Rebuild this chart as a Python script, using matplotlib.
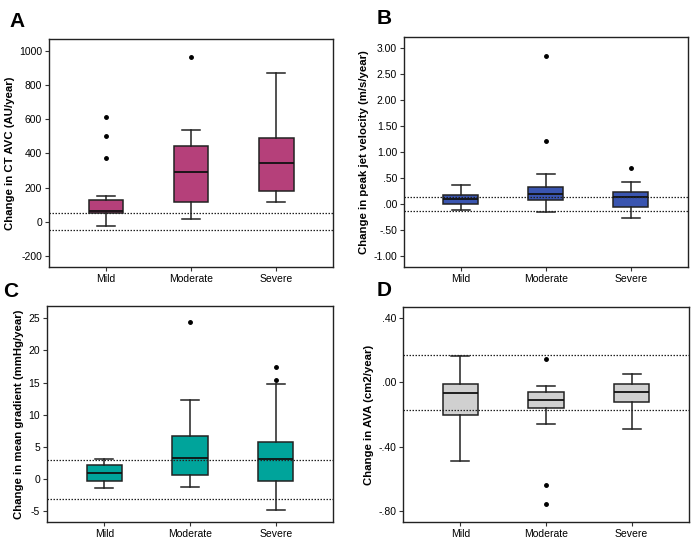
import matplotlib
matplotlib.use("Agg")
import matplotlib.pyplot as plt

plt.rcParams['font.family'] = ['Liberation Sans', 'DejaVu Sans']

groups = ['Mild', 'Moderate', 'Severe']

# per group: (low whisker, Q1, median, Q3, high whisker)
avc_stats = [(-27, 51, 65, 129, 153), (19, 113, 290, 443, 535), (118, 178, 343, 490, 872)]
avc_fliers = [[376, 505, 615], [966], []]
avc_ref = [50, -50]

vel_stats = [(-0.12, -0.013, 0.084, 0.167, 0.354), (-0.16, 0.077, 0.18, 0.315, 0.572),
             (-0.283, -0.058, 0.129, 0.219, 0.424)]
vel_fliers = [[], [1.22, 2.855], [0.70]]
vel_ref = [0.14, -0.14]

grad_stats = [(-1.29, -0.3, 0.93, 2.2, 3.15), (-1.13, 0.72, 3.25, 6.75, 12.27),
              (-4.85, -0.26, 3.2, 5.72, 14.74)]
grad_fliers = [[], [24.4], [15.46, 17.37]]
grad_ref = [3, -3]

ava_stats = [(-0.49, -0.203, -0.063, -0.009, 0.165), (-0.257, -0.158, -0.11, -0.058, -0.019),
             (-0.288, -0.123, -0.057, -0.009, 0.053)]
ava_fliers = [[], [0.144, -0.639, -0.757], []]
ava_ref = [0.17, -0.17]

panels = [
    dict(letter='A', stats=avc_stats, fliers=avc_fliers, ref=avc_ref, color='#b5407a',
         ylabel='Change in CT AVC (AU/year)', ylim=(-265, 1070),
         ticks=[-200, 0, 200, 400, 600, 800, 1000],
         labels=['-200', '0', '200', '400', '600', '800', '1000'],
         rect=[0.0706, 0.5037, 0.4094, 0.4238], lpos=(0.014, 0.978)),
    dict(letter='B', stats=vel_stats, fliers=vel_fliers, ref=vel_ref, color='#3a55b0',
         ylabel='Change in peak jet velocity (m/s/year)', ylim=(-1.22, 3.22),
         ticks=[-1, -0.5, 0, 0.5, 1, 1.5, 2, 2.5, 3],
         labels=['-1.00', '-.50', '.00', '.50', '1.00', '1.50', '2.00', '2.50', '3.00'],
         rect=[0.582, 0.5037, 0.409, 0.4275], lpos=(0.543, 0.983)),
    dict(letter='C', stats=grad_stats, fliers=grad_fliers, ref=grad_ref, color='#00a49b',
         ylabel='Change in mean gradient (mmHg/year)', ylim=(-6.64, 26.85),
         ticks=[-5, 0, 5, 10, 15, 20, 25],
         labels=['-5', '0', '5', '10', '15', '20', '25'],
         rect=[0.0677, 0.0297, 0.4123, 0.4013], lpos=(0.004, 0.475)),
    dict(letter='D', stats=ava_stats, fliers=ava_fliers, ref=ava_ref, color='#d0d0d0',
         ylabel='Change in AVA (cm2/year)', ylim=(-0.868, 0.468),
         ticks=[-0.8, -0.4, 0, 0.4],
         labels=['-.80', '-.40', '.00', '.40'],
         rect=[0.5807, 0.0297, 0.4121, 0.3993], lpos=(0.543, 0.478)),
]

fig = plt.figure(figsize=(6.94, 5.38), dpi=100)

for p in panels:
    ax = fig.add_axes(p['rect'])
    bstats = []
    for name, s, fl in zip(groups, p['stats'], p['fliers']):
        bstats.append(dict(label=name, whislo=s[0], q1=s[1], med=s[2], q3=s[3],
                           whishi=s[4], fliers=fl))
    ax.bxp(bstats, positions=[1, 2, 3], widths=0.41, patch_artist=True,
           showfliers=True,
           boxprops=dict(facecolor=p['color'], edgecolor='#222222', linewidth=1.1),
           medianprops=dict(color='#111111', linewidth=1.3),
           whiskerprops=dict(color='#222222', linewidth=1.1),
           capprops=dict(color='#222222', linewidth=1.1),
           capwidths=0.21,
           flierprops=dict(marker='o', markersize=2.5, markerfacecolor='black',
                           markeredgecolor='black'))
    for r in p['ref']:
        ax.axhline(r, color='#222222', linestyle=(0, (1.2, 1.2)), linewidth=0.9, zorder=5)
    ax.set_xlim(0.33, 3.67)
    ax.set_ylim(*p['ylim'])
    ax.set_yticks(p['ticks'])
    ax.set_yticklabels(p['labels'])
    ax.set_xticks([1, 2, 3])
    ax.set_xticklabels(groups)
    ax.tick_params(axis='both', labelsize=7.5, length=3, width=0.8, color='#333333', pad=2)
    ax.set_ylabel(p['ylabel'], fontsize=8.2, fontweight='bold', labelpad=3)
    for sp in ax.spines.values():
        sp.set_linewidth(1.0)
        sp.set_color('#222222')
    fig.text(p['lpos'][0], p['lpos'][1], p['letter'], fontsize=15, fontweight='bold',
             va='top', ha='left')

fig.savefig('out.png', dpi=100)
